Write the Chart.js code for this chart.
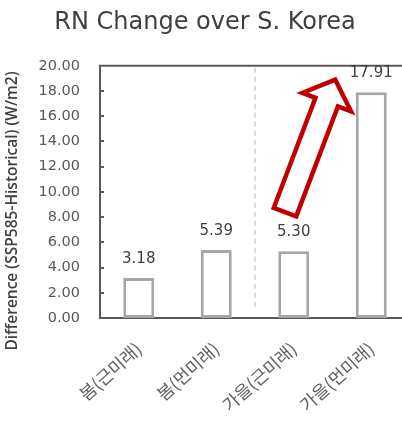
<!DOCTYPE html>
<html>
<head>
<meta charset="utf-8">
<script src="https://cdn.jsdelivr.net/npm/chart.js@4"></script>
<style>
html,body{margin:0;padding:0;background:#fff;overflow:hidden;}
#wrap{width:410px;height:422px;}
</style>
</head>
<body>
<div id="wrap"><canvas id="c"></canvas></div>
<script>
const titleText = 'RN Change over S. Korea';
const yTitle = 'Difference (SSP585-Historical) (W/m2)';
const categories = ['봄(근미래)', '봄(먼미래)', '가을(근미래)', '가을(먼미래)'];
const values = [3.18, 5.39, 5.30, 17.91];
const yMin = 0, yMax = 20, yStep = 2;
// arrow annotation anchors in data space (category index, value)
const arrowFrom = {x: 1.887, y: 8.4};
const arrowTo = {x: 2.535, y: 18.9};

const axisColor = '#595959';

const decor = {
  id: 'decor',
  beforeDatasetsDraw(chart) {
    const {ctx, chartArea: ca, scales} = chart;
    const y = scales.y, x = scales.x;
    ctx.save();
    const sx = (x.getPixelForValue(1) + x.getPixelForValue(2)) / 2;
    ctx.strokeStyle = '#d0d0d0';
    ctx.lineWidth = 1.5;
    ctx.setLineDash([5, 4]);
    ctx.beginPath();
    ctx.moveTo(sx, ca.top + 2);
    ctx.lineTo(sx, ca.bottom - 8);
    ctx.stroke();
    ctx.setLineDash([]);
    ctx.strokeStyle = axisColor;
    ctx.lineWidth = 2;
    ctx.beginPath();
    ctx.moveTo(ca.right + 5, ca.top);
    ctx.lineTo(ca.left, ca.top);
    ctx.lineTo(ca.left, ca.bottom);
    ctx.lineTo(ca.right + 5, ca.bottom);
    ctx.stroke();
    for (let v = yMin + yStep; v < yMax; v += yStep) {
      const py = Math.round(y.getPixelForValue(v));
      ctx.beginPath();
      ctx.moveTo(ca.left, py);
      ctx.lineTo(ca.left + 4, py);
      ctx.stroke();
    }
    ctx.restore();
  },
  afterDatasetsDraw(chart) {
    const {ctx, scales} = chart;
    const y = scales.y, x = scales.x;
    ctx.save();
    ctx.fillStyle = '#404040';
    ctx.font = '15px "DejaVu Sans"';
    ctx.textAlign = 'center';
    ctx.textBaseline = 'middle';
    values.forEach((v, i) => {
      ctx.fillText(v.toFixed(2), x.getPixelForValue(i), y.getPixelForValue(v) - 19);
    });
    ctx.save();
    ctx.translate(13, 211);
    ctx.rotate(-Math.PI / 2);
    ctx.font = '600 15.5px "Open Sans"';
    ctx.fillStyle = '#404040';
    ctx.textAlign = 'center';
    ctx.textBaseline = 'middle';
    ctx.fillText(yTitle, 0, 0);
    ctx.restore();
    const x0 = x.getPixelForValue(arrowFrom.x), y0 = y.getPixelForValue(arrowFrom.y);
    const x1 = x.getPixelForValue(arrowTo.x), y1 = y.getPixelForValue(arrowTo.y);
    const dx = x1 - x0, dy = y1 - y0, L = Math.hypot(dx, dy);
    const ux = dx / L, uy = dy / L, nx = -uy, ny = ux;
    const sw = 12, hw = 26, hl = 24;
    const bx = x1 - ux * hl, by = y1 - uy * hl;
    const pts = [
      [x0 + nx * sw, y0 + ny * sw],
      [bx + nx * sw, by + ny * sw],
      [bx + nx * hw, by + ny * hw],
      [x1, y1],
      [bx - nx * hw, by - ny * hw],
      [bx - nx * sw, by - ny * sw],
      [x0 - nx * sw, y0 - ny * sw]
    ];
    ctx.beginPath();
    pts.forEach((p, i) => i ? ctx.lineTo(p[0], p[1]) : ctx.moveTo(p[0], p[1]));
    ctx.closePath();
    ctx.strokeStyle = '#c00000';
    ctx.lineWidth = 4.5;
    ctx.lineJoin = 'miter';
    ctx.stroke();
    ctx.restore();
  }
};

new Chart(document.getElementById('c'), {
  type: 'bar',
  data: {
    labels: categories,
    datasets: [{
      data: values,
      backgroundColor: '#ffffff',
      borderColor: '#a6a6a6',
      borderWidth: 3,
      borderSkipped: false,
      barPercentage: 0.4,
      categoryPercentage: 1
    }]
  },
  options: {
    responsive: true,
    maintainAspectRatio: false,
    animation: false,
    layout: {padding: {left: 0, right: 0, top: 0, bottom: 0}},
    plugins: {
      legend: {display: false},
      tooltip: {enabled: false},
      title: {
        display: true,
        text: titleText,
        color: '#404040',
        font: {family: 'DejaVu Sans', size: 24, weight: 'normal'},
        padding: {top: 8, bottom: 29}
      }
    },
    scales: {
      x: {
        grid: {display: false, drawTicks: false},
        border: {display: false},
        ticks: {
          color: '#5f5f5f',
          font: {family: '"Noto Sans CJK KR"', size: 17.5},
          maxRotation: 42, minRotation: 42,
          padding: 20
        },
        afterFit(s) { s.height = 104; }
      },
      y: {
        min: yMin, max: yMax,
        grid: {display: false, drawTicks: false},
        border: {display: false},
        ticks: {
          stepSize: yStep,
          color: axisColor,
          font: {family: 'DejaVu Sans', size: 14.5},
          padding: 20,
          callback: v => Number(v).toFixed(2)
        },
        afterFit(s) { s.width = 100; }
      }
    }
  },
  plugins: [decor]
});
</script>
</body>
</html>
